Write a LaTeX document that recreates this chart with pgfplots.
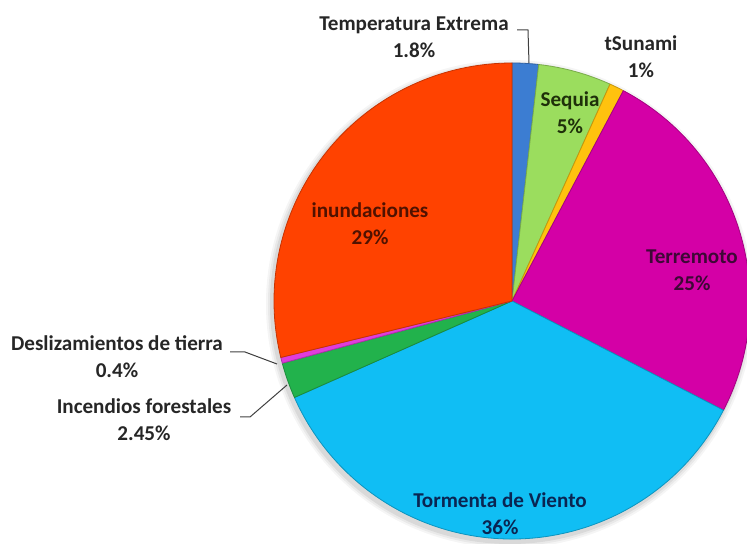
\documentclass[border=0pt]{standalone}
\usepackage{fontspec}
\setmainfont{Carlito}
\usepackage{pgfplots}
\usepackage{pgfplotstable}
\pgfplotsset{compat=1.18}

\definecolor{ctemp}{HTML}{3C7DD2}
\definecolor{cseq}{HTML}{9BDD5E}
\definecolor{ctsu}{HTML}{FFC20E}
\definecolor{cter}{HTML}{D400A6}
\definecolor{ctor}{HTML}{10BEF4}
\definecolor{cinc}{HTML}{22B24C}
\definecolor{cdes}{HTML}{E03CDC}
\definecolor{cinu}{HTML}{FF4200}
\definecolor{lblout}{HTML}{262626}
\definecolor{lblseq}{HTML}{1F300A}
\definecolor{lblter}{HTML}{3E0836}
\definecolor{lbltor}{HTML}{0A2552}
\definecolor{lblinu}{HTML}{501200}
\definecolor{lineg}{HTML}{404040}

% percentages as printed on the chart, clockwise from 12 o'clock
\pgfplotstableread{
pct   fillc
1.8   ctemp
5     cseq
1     ctsu
25    cter
36    ctor
2.45  cinc
0.4   cdes
29    cinu
}\piedata

\pgfplotstablegetrowsof{\piedata}
\pgfmathtruncatemacro\lastrow{\pgfplotsretval-1}
\def\pietotal{0}
\pgfplotsforeachungrouped \rw in {0,...,\lastrow}{%
  \pgfplotstablegetelem{\rw}{pct}\of\piedata
  \pgfmathsetmacro\pietotal{\pietotal+\pgfplotsretval}}
\def\cur{90}
\pgfplotsforeachungrouped \rw in {0,...,\lastrow}{%
  \pgfplotstablegetelem{\rw}{pct}\of\piedata
  \pgfmathsetmacro\nxt{\cur-360*\pgfplotsretval/\pietotal}%
  \expandafter\xdef\csname sa\rw\endcsname{\cur}%
  \expandafter\xdef\csname se\rw\endcsname{\nxt}%
  \pgfplotstablegetelem{\rw}{fillc}\of\piedata
  \expandafter\xdef\csname sc\rw\endcsname{\pgfplotsretval}%
  \let\cur\nxt}

\def\cx{512}
\def\cy{243}
\def\rad{238}

\tikzset{
  lbl/.style={font=\fontsize{21.2}{27}\selectfont\bfseries, align=center, text=#1},
  lbl/.default=lblout,
  leader/.style={draw=lineg, line width=1bp}
}

\begin{document}
\begin{tikzpicture}
\begin{axis}[
  hide axis,
  x=1bp, y=1bp,
  xmin=0, xmax=747, ymin=0, ymax=544,
]
% soft shadow
\fill[black, opacity=0.04] (axis cs:510,240) circle[radius=244bp];
\fill[black, opacity=0.05] (axis cs:510,240) circle[radius=242bp];
\fill[black, opacity=0.07] (axis cs:510,240) circle[radius=240bp];
\pgfplotsinvokeforeach{0,...,7}{
  \fill[fill=\csname sc#1\endcsname, draw=\csname sc#1\endcsname!78!black, line width=0.8bp, line join=round]
    (axis cs:\cx,\cy) -- ++(\csname sa#1\endcsname:\rad bp)
    arc[start angle=\csname sa#1\endcsname, end angle=\csname se#1\endcsname, radius=\rad bp]
    -- cycle;
}

% leader lines
\draw[leader] (axis cs:517,514) -- (axis cs:528,514) -- (axis cs:529,481);
\draw[leader] (axis cs:230,192) -- (axis cs:245,192) -- (axis cs:277,180);
\draw[leader] (axis cs:240,127) -- (axis cs:250,127) -- (axis cs:287,159);

% labels
\node[lbl] at (axis cs:414,507) {Temperatura Extrema\\1.8\%};
\node[lbl] at (axis cs:641,487) {tSunami\\1\%};
\node[lbl=lblseq] at (axis cs:570,431) {Sequia\\5\%};
\node[lbl=lblter] at (axis cs:692,274) {Terremoto\\25\%};
\node[lbl=lblinu] at (axis cs:370,320) {inundaciones\\29\%};
\node[lbl=lbltor] at (axis cs:500,30) {Tormenta de Viento\\36\%};
\node[lbl] at (axis cs:117,187) {Deslizamientos de tierra\\0.4\%};
\node[lbl] at (axis cs:144,124) {Incendios forestales\\2.45\%};
\end{axis}
\pgfresetboundingbox
\useasboundingbox (0,0) rectangle (747bp,544bp);
\end{tikzpicture}
\end{document}
